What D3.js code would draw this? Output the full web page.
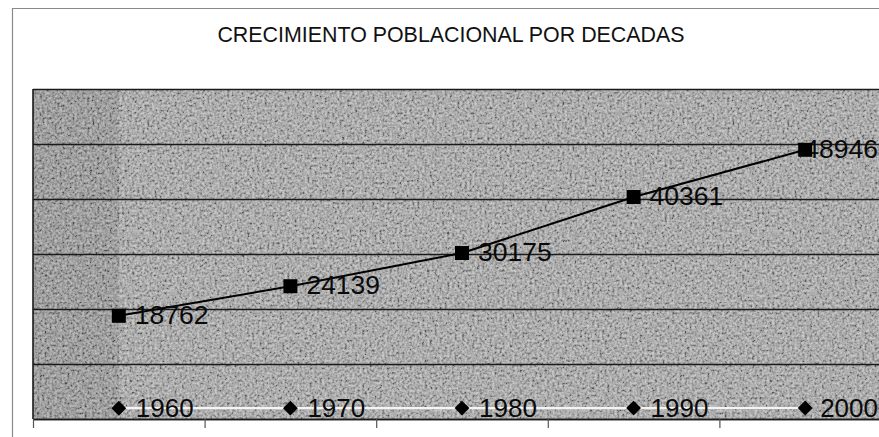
<!DOCTYPE html>
<html>
<head>
<meta charset="utf-8">
<script src="https://cdn.jsdelivr.net/npm/d3@7"></script>
<style>
  body { margin: 0; background: #fff; }
  text { font-family: Arial, "Liberation Sans", sans-serif; }
</style>
</head>
<body>
<div id="vis"></div>
<script>
// data
var decades = ["1960", "1970", "1980", "1990", "2000"];
var population = [18762, 24139, 30175, 40361, 48946];
var yearSeries = [1960, 1970, 1980, 1990, 2000];
var yTicks = [0, 10000, 20000, 30000, 40000, 50000, 60000];
var title = "CRECIMIENTO POBLACIONAL POR DECADAS";

var width = 879, height = 437;

var svg = d3.select("#vis")
  .append("svg")
  .attr("width", width)
  .attr("height", height);

// plot area (runs past the right edge, like the scan)
var plot = {left: 33, top: 89, width: 858, height: 330};

var x = d3.scaleBand().domain(decades).range([plot.left, plot.left + plot.width]);
var xEdges = d3.scaleLinear().domain([0, decades.length]).range([plot.left, plot.left + plot.width]);
var y = d3.scaleLinear().domain([0, 60000]).range([plot.top + plot.height, plot.top]);

// grey noise for the scanned background
var defs = svg.append("defs");
var f = defs.append("filter").attr("id", "grain")
  .attr("x", 0).attr("y", 0).attr("width", "100%").attr("height", "100%");
f.append("feTurbulence").attr("type", "fractalNoise").attr("baseFrequency", 0.4).attr("numOctaves", 2).attr("seed", 4);
f.append("feColorMatrix").attr("type", "matrix")
  .attr("values", "1.8 0 0 0 -0.4  1.8 0 0 0 -0.4  1.8 0 0 0 -0.4  0 0 0 0 1");

// outer chart border
svg.append("path")
  .attr("d", "M12.5," + height + "V8.5H" + width)
  .attr("fill", "none")
  .attr("stroke", "#8a8a8a")
  .attr("stroke-width", 1.2);

// title
svg.append("text")
  .attr("x", 451)
  .attr("y", 42)
  .attr("text-anchor", "middle")
  .attr("font-size", "21.4px")
  .attr("fill", "#111")
  .text(title);

// plot background
svg.append("rect")
  .attr("x", plot.left).attr("y", plot.top)
  .attr("width", plot.width).attr("height", plot.height)
  .attr("fill", "#a0a0a0");

// darker strip on the left
svg.append("rect")
  .attr("x", plot.left).attr("y", plot.top)
  .attr("width", x(decades[0]) + x.bandwidth() / 2 - plot.left).attr("height", plot.height)
  .attr("fill", "#888");

svg.append("rect")
  .attr("x", plot.left).attr("y", plot.top)
  .attr("width", plot.width).attr("height", plot.height)
  .attr("fill", "#fff")
  .attr("opacity", 0.45)
  .attr("filter", "url(#grain)");

// horizontal gridlines
svg.append("g")
  .attr("class", "grid")
  .attr("transform", "translate(" + plot.left + ",0)")
  .call(d3.axisLeft(y).tickValues(yTicks).tickSize(-plot.width).tickFormat(""))
  .call(function(g) { g.select(".domain").remove(); })
  .selectAll("line")
  .attr("stroke", "#1a1a1a")
  .attr("stroke-width", 1.6);

// left edge of the plot area
svg.append("line")
  .attr("x1", plot.left).attr("x2", plot.left)
  .attr("y1", plot.top).attr("y2", plot.top + plot.height)
  .attr("stroke", "#1a1a1a")
  .attr("stroke-width", 1.6);

// category axis: ticks between the decades
svg.append("g")
  .attr("transform", "translate(0," + (plot.top + plot.height) + ")")
  .call(d3.axisBottom(xEdges).tickValues(d3.range(decades.length + 1)).tickSize(9).tickSizeOuter(0).tickFormat(""))
  .call(function(g) {
    g.select(".domain").attr("stroke", "#1a1a1a").attr("stroke-width", 1.6);
    g.selectAll("line").attr("stroke", "#555").attr("stroke-width", 1.2);
  });

function cx(d, i) { return x(decades[i]) + x.bandwidth() / 2; }

// like Excel, push a label back inside the chart when it would run off the edge
function fitLabel(sel, offset) {
  sel.attr("x", function(d, i) {
    var w = this.getComputedTextLength();
    return Math.min(cx(d, i) + offset, width - 1 - w);
  });
}

// years series (white line, diamonds)
svg.append("path")
  .datum(yearSeries)
  .attr("fill", "none")
  .attr("stroke", "#f4f4f4")
  .attr("stroke-width", 2.2)
  .attr("d", d3.line().x(cx).y(function(d) { return y(d); }));

svg.selectAll(".yearLabel")
  .data(yearSeries)
  .enter().append("text")
  .attr("class", "yearLabel")
  .attr("y", function(d) { return y(d) + 8.5; })
  .attr("font-size", "26px")
  .attr("fill", "#0a0a0a")
  .text(function(d) { return d; })
  .call(fitLabel, 17);

svg.selectAll(".diamond")
  .data(yearSeries)
  .enter().append("path")
  .attr("class", "diamond")
  .attr("transform", function(d, i) { return "translate(" + cx(d, i) + "," + y(d) + ") rotate(45)"; })
  .attr("d", d3.symbol().type(d3.symbolSquare).size(110))
  .attr("fill", "#000");

// population series (black line, squares)
svg.append("path")
  .datum(population)
  .attr("fill", "none")
  .attr("stroke", "#000")
  .attr("stroke-width", 2)
  .attr("d", d3.line().x(cx).y(function(d) { return y(d); }));

svg.selectAll(".popLabel")
  .data(population)
  .enter().append("text")
  .attr("class", "popLabel")
  .attr("y", function(d) { return y(d) + 8; })
  .attr("font-size", "26.5px")
  .attr("fill", "#0a0a0a")
  .text(function(d) { return d; })
  .call(fitLabel, 16);

svg.selectAll(".square")
  .data(population)
  .enter().append("rect")
  .attr("class", "square")
  .attr("x", function(d, i) { return cx(d, i) - 7; })
  .attr("y", function(d) { return y(d) - 7; })
  .attr("width", 14)
  .attr("height", 14)
  .attr("fill", "#000");
</script>
</body>
</html>
